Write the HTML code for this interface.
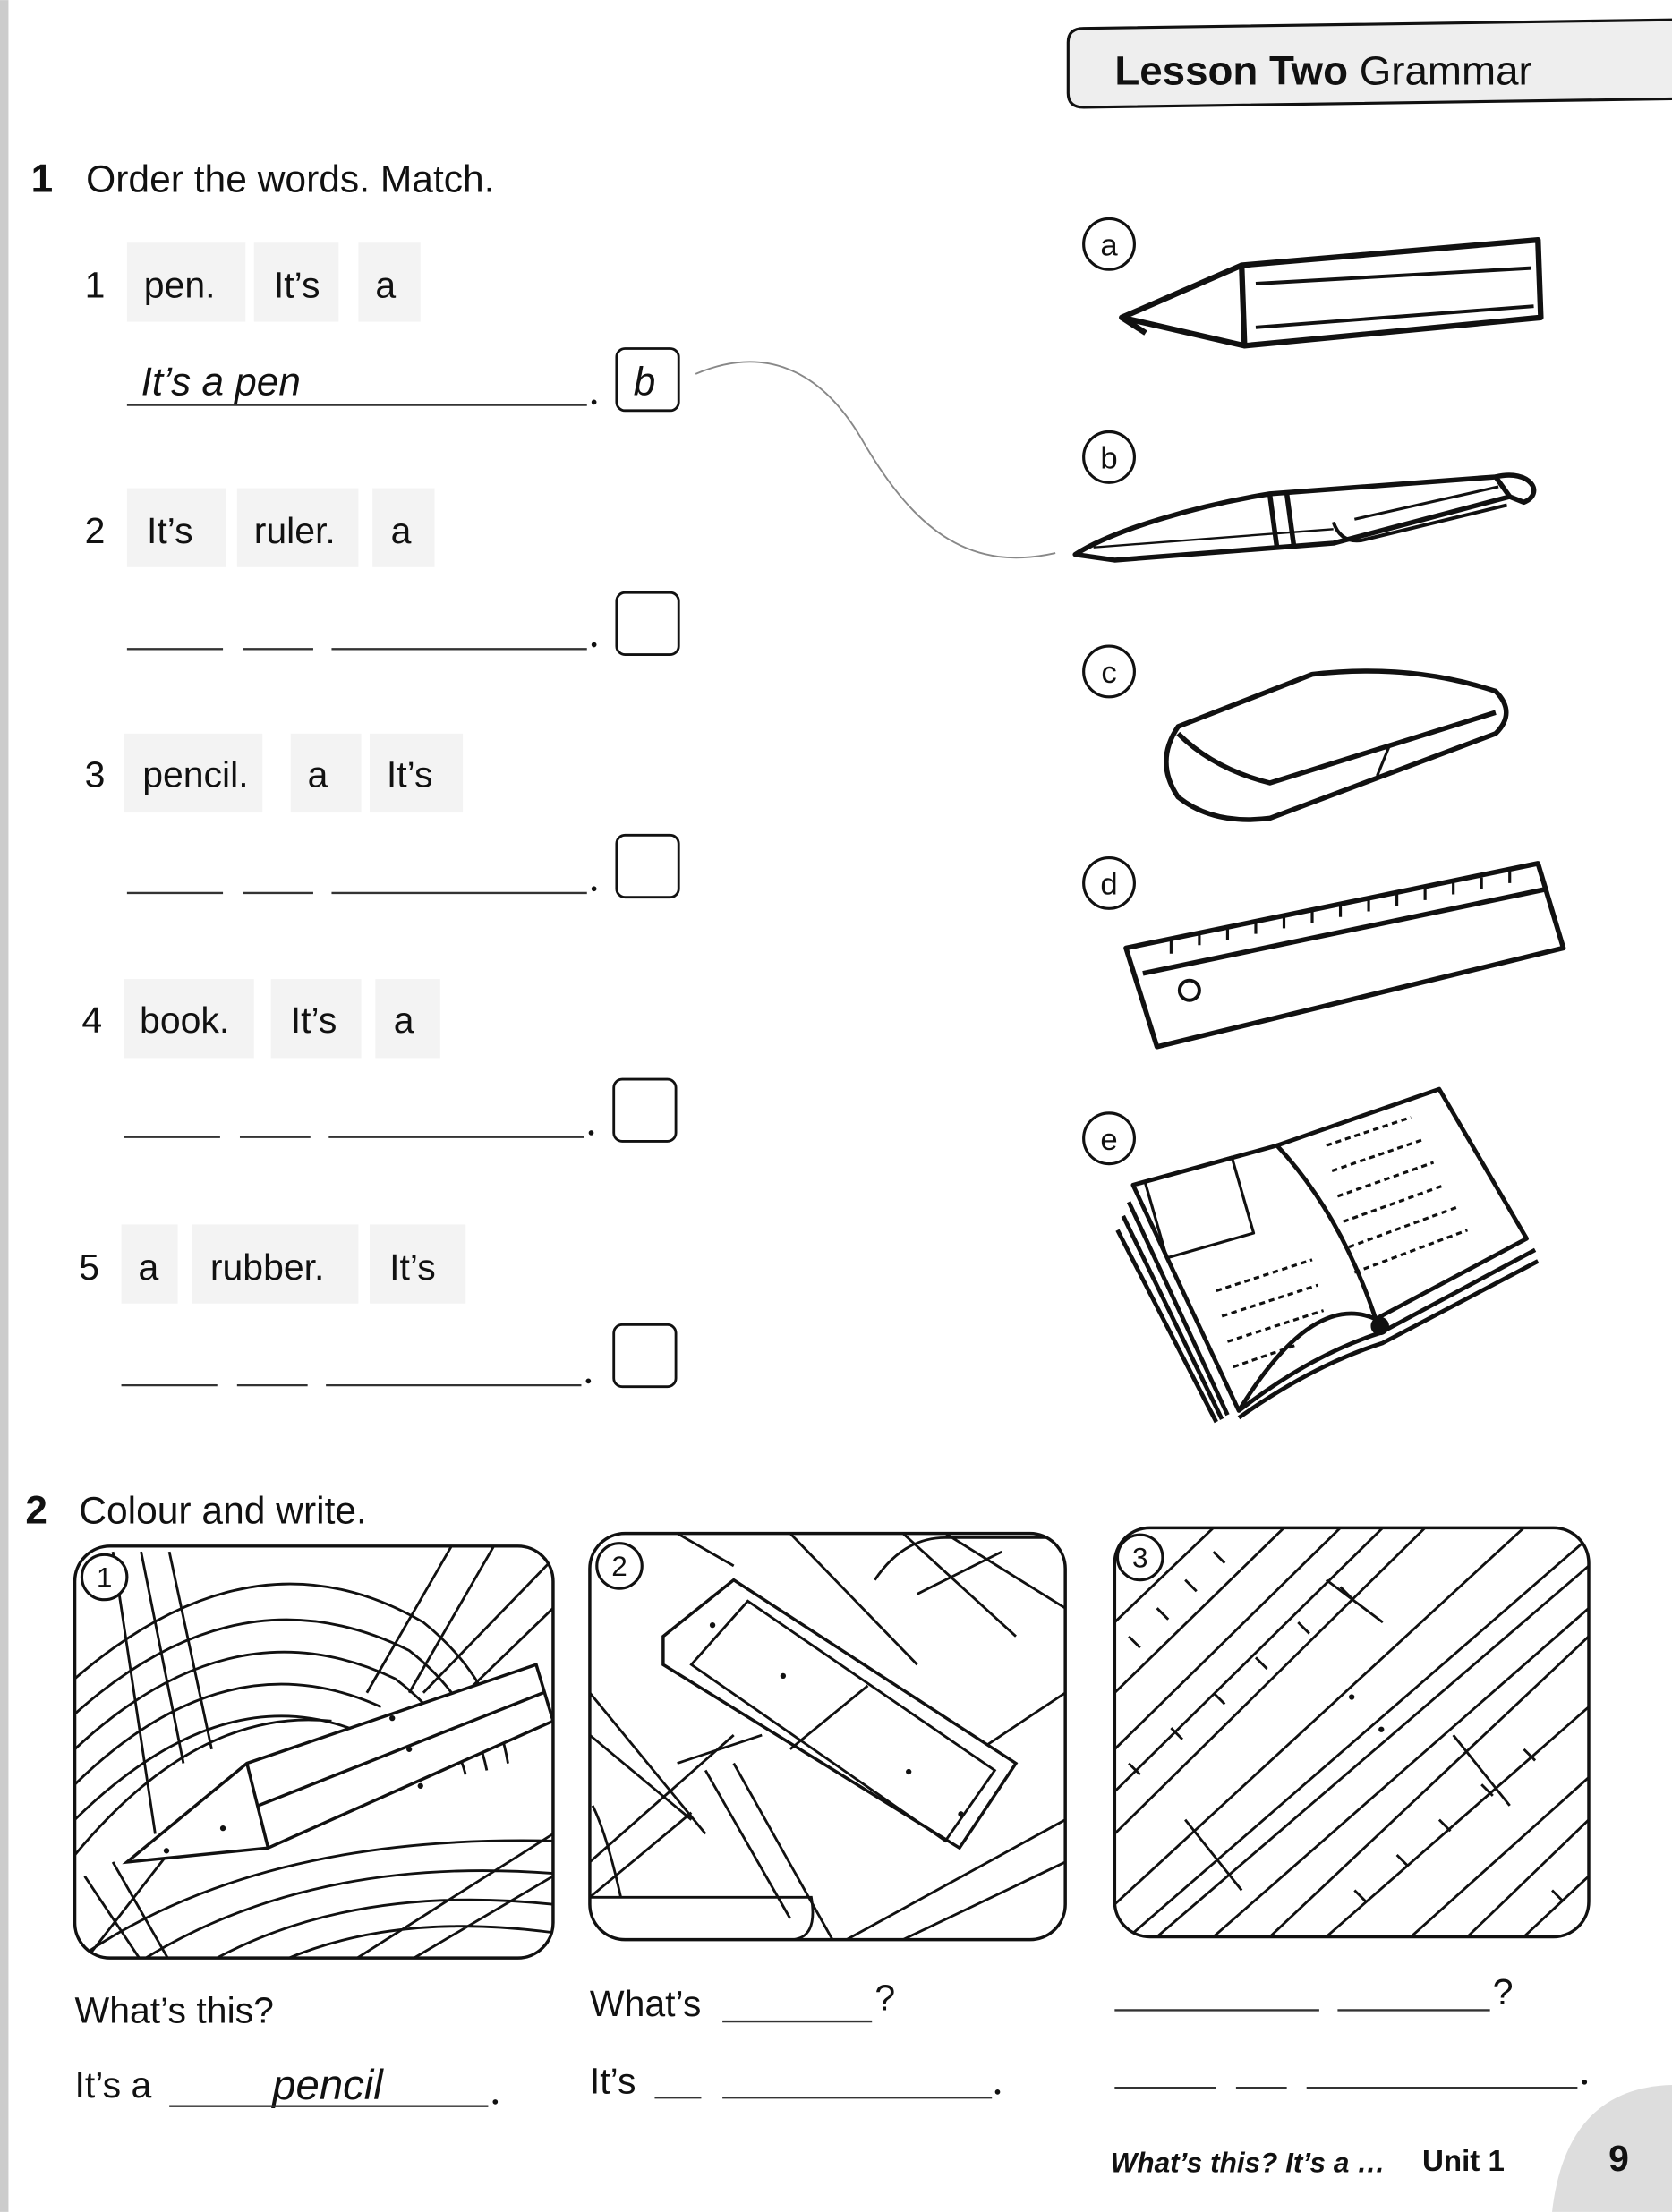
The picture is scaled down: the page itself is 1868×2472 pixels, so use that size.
<!DOCTYPE html>
<html><head><meta charset="utf-8"><style>
html,body{margin:0;padding:0;background:#fff;}
svg{display:block;}
text{font-family:"Liberation Sans",sans-serif;fill:#111;}
</style></head><body>
<svg width="1868" height="2472" viewBox="0 0 1185 1568" xmlns="http://www.w3.org/2000/svg">
<defs>
<clipPath id="c1"><rect x="53" y="1096" width="339" height="292" rx="25"/></clipPath>
<clipPath id="c2"><rect x="418" y="1087" width="337" height="288" rx="25"/></clipPath>
<clipPath id="c3"><rect x="790" y="1083" width="336" height="290" rx="25"/></clipPath>
</defs>
<rect x="0" y="0" width="6" height="1568" fill="#ccc"/>
<path d="M1185 14 L768 20 Q757 20 757 30 L757 66 Q757 76 768 76 L1185 70" fill="#eee" stroke="#111" stroke-width="2"/>
<text x="790" y="60" font-size="29" font-weight="bold">Lesson Two <tspan font-weight="normal">Grammar</tspan></text>
<text x="22" y="136" font-size="28" font-weight="bold">1</text>
<text x="61" y="136" font-size="27">Order the words. Match.</text>
<g font-size="26">
<g fill="#f3f3f3">
<rect x="90" y="172" width="84" height="56"/><rect x="180" y="172" width="60" height="56"/><rect x="254" y="172" width="44" height="56"/>
<rect x="90" y="346" width="70" height="56"/><rect x="168" y="346" width="86" height="56"/><rect x="264" y="346" width="44" height="56"/>
<rect x="88" y="520" width="98" height="56"/><rect x="206" y="520" width="50" height="56"/><rect x="262" y="520" width="66" height="56"/>
<rect x="88" y="694" width="92" height="56"/><rect x="192" y="694" width="64" height="56"/><rect x="266" y="694" width="46" height="56"/>
<rect x="86" y="868" width="40" height="56"/><rect x="136" y="868" width="118" height="56"/><rect x="262" y="868" width="68" height="56"/>
</g>
<text x="60" y="211">1</text><text x="102" y="211">pen.</text><text x="194" y="211">It’s</text><text x="266" y="211">a</text>
<text x="60" y="385">2</text><text x="104" y="385">It’s</text><text x="180" y="385">ruler.</text><text x="277" y="385">a</text>
<text x="60" y="558">3</text><text x="101" y="558">pencil.</text><text x="218" y="558">a</text><text x="274" y="558">It’s</text>
<text x="58" y="732">4</text><text x="99" y="732">book.</text><text x="206" y="732">It’s</text><text x="279" y="732">a</text>
<text x="56" y="907">5</text><text x="98" y="907">a</text><text x="149" y="907">rubber.</text><text x="276" y="907">It’s</text>
</g>
<text x="100" y="280" font-size="28" font-style="italic" fill="#333">It’s a pen</text>
<line x1="90" y1="287" x2="416" y2="287" stroke="#333" stroke-width="1.5"/>
<g stroke="#333" stroke-width="1.5">
<line x1="90" y1="460" x2="158" y2="460"/><line x1="172" y1="460" x2="222" y2="460"/><line x1="235" y1="460" x2="416" y2="460"/>
<line x1="90" y1="633" x2="158" y2="633"/><line x1="172" y1="633" x2="222" y2="633"/><line x1="235" y1="633" x2="416" y2="633"/>
<line x1="88" y1="806" x2="156" y2="806"/><line x1="170" y1="806" x2="220" y2="806"/><line x1="233" y1="806" x2="414" y2="806"/>
<line x1="86" y1="982" x2="154" y2="982"/><line x1="168" y1="982" x2="218" y2="982"/><line x1="231" y1="982" x2="412" y2="982"/>
</g>
<g fill="#111"><circle cx="421" cy="285" r="1.8"/><circle cx="421" cy="457" r="1.8"/><circle cx="421" cy="630" r="1.8"/><circle cx="419" cy="803" r="1.8"/><circle cx="417" cy="979" r="1.8"/></g>
<g fill="none" stroke="#111" stroke-width="1.8">
<rect x="437" y="247" width="44" height="44" rx="6"/><rect x="437" y="420" width="44" height="44" rx="6"/><rect x="437" y="592" width="44" height="44" rx="6"/><rect x="435" y="765" width="44" height="44" rx="6"/><rect x="435" y="939" width="44" height="44" rx="6"/>
</g>
<text x="449" y="280" font-size="28" font-style="italic">b</text>
<path d="M493 265 C540 245 580 260 610 310 C650 380 690 405 748 392" fill="none" stroke="#888" stroke-width="1.2"/>
<g fill="none" stroke="#111" stroke-width="2"><circle cx="786" cy="173" r="18"/><circle cx="786" cy="324" r="18"/><circle cx="786" cy="476" r="18"/><circle cx="786" cy="626" r="18"/><circle cx="786" cy="807" r="18"/></g>
<g font-size="22" text-anchor="middle"><text x="786" y="181">a</text><text x="786" y="332">b</text><text x="786" y="484">c</text><text x="786" y="634">d</text><text x="786" y="815">e</text></g>
<!-- pencil -->
<g fill="none" stroke="#111" stroke-width="4" stroke-linejoin="round">
<path d="M880 188 L1090 170 L1092 225 L882 245 Z"/><path d="M880 188 L795 225 L882 245"/><path d="M795 225 L812 236"/>
<line x1="890" y1="201" x2="1085" y2="190" stroke-width="2.5"/><line x1="890" y1="232" x2="1087" y2="217" stroke-width="2.5"/>
</g>
<!-- pen -->
<g fill="none" stroke="#111" stroke-width="3.5" stroke-linejoin="round">
<path d="M762 393 C790 375 850 358 900 350 L1060 338 L1070 352 L945 385 L790 397 Z"/>
<path d="M1060 338 C1085 332 1095 350 1080 356 L1070 352" />
<path d="M945 370 Q950 385 965 383 L1068 358" stroke-width="2.5"/>
<path d="M960 368 L1062 345" stroke-width="2"/>
<line x1="900" y1="351" x2="905" y2="388"/><line x1="912" y1="350" x2="917" y2="387"/>
<line x1="775" y1="388" x2="945" y2="375" stroke-width="1.5"/>
</g>
<!-- rubber -->
<g fill="none" stroke="#111" stroke-width="3.5" stroke-linejoin="round">
<path d="M835 515 L930 478 Q1000 470 1060 490 Q1075 505 1060 520 L900 580 Q860 585 835 565 Q818 540 835 515 Z"/>
<path d="M835 520 Q860 545 900 555 L1060 505"/><line x1="985" y1="528" x2="976" y2="550" stroke-width="2"/>
</g>
<!-- ruler -->
<g fill="none" stroke="#111" stroke-width="3.5" stroke-linejoin="round">
<path d="M798 672 L1090 612 L1108 672 L820 742 Z"/><line x1="810" y1="690" x2="1097" y2="630"/>
<circle cx="843" cy="702" r="7" stroke-width="2.5"/>
<path d="M830 666 L830 676 M850 662 L850 670 M870 658 L870 666 M890 654 L890 662 M910 650 L910 658 M930 646 L930 654 M950 642 L950 650 M970 638 L970 646 M990 634 L990 642 M1010 630 L1010 638 M1030 626 L1030 634 M1050 622 L1050 630 M1070 618 L1070 626" stroke-width="2"/>
</g>
<!-- book -->
<g fill="none" stroke="#111" stroke-width="3" stroke-linejoin="round">
<path d="M803 840 L905 812 Q945 840 975 935 Q930 915 878 1000 Z" fill="#fff"/>
<path d="M905 812 L1020 772 L1082 878 L975 935 Q950 860 905 812 Z" fill="#fff"/>
<path d="M800 852 L870 1003 M796 862 L866 1006 M792 872 L862 1008 M878 1000 Q930 960 978 945 L1088 886 M878 1005 Q930 968 980 952 L1090 894"/>
<rect x="818" y="828" width="64" height="56" transform="rotate(-16 850 856)" stroke-width="2"/>
<path d="M940 812 L1000 792 M944 830 L1008 808 M948 848 L1016 824 M952 866 L1024 840 M956 884 L1032 856 M960 902 L1040 872 M862 915 L930 893 M866 933 L934 911 M870 951 L938 929 M874 969 L920 953" stroke-width="2" stroke-dasharray="4 3"/>
<circle cx="978" cy="940" r="5" fill="#111"/>
</g>
<!-- section 2 -->
<text x="18" y="1080" font-size="28" font-weight="bold">2</text>
<text x="56" y="1080" font-size="27">Colour and write.</text>
<g fill="none" stroke="#111" stroke-width="1.8">
<g clip-path="url(#c1)">
<path d="M53 1190 Q180 1080 300 1150 Q350 1190 360 1250 M53 1215 Q170 1110 290 1170 Q335 1205 345 1255 M53 1240 Q165 1135 280 1190 Q320 1220 330 1258 M53 1265 Q160 1160 270 1210 M53 1290 Q160 1185 260 1230 M53 1315 Q140 1210 235 1220"/>
<path d="M53 1390 Q180 1300 392 1305 M100 1390 Q220 1315 392 1328 M150 1390 Q250 1335 392 1350 M200 1390 Q280 1355 392 1370 M250 1390 L392 1300 M290 1390 L392 1330 M80 1100 L110 1300 M100 1100 L130 1250 M120 1100 L150 1240 M260 1200 L320 1096 M290 1200 L350 1096 M300 1200 L392 1105 M330 1200 L392 1140 M60 1330 L100 1390 M80 1320 L120 1390 M60 1390 L130 1300"/>
<path d="M90 1320 L175 1250 L380 1180 L392 1220 L190 1310 Z M175 1250 L190 1310 M183 1280 L385 1200" stroke-width="2.2" fill="#fff"/>
</g>
<rect x="53" y="1096" width="339" height="292" rx="25" stroke-width="2.2"/>
<g clip-path="url(#c2)">
<path d="M418 1200 L500 1300 M418 1230 L490 1290 M418 1320 L520 1230 M418 1345 L490 1285 M500 1255 L560 1360 M520 1250 L590 1375 M640 1087 L720 1160 M670 1087 L755 1140 M560 1087 L650 1180 M600 1375 L755 1290 M640 1375 L755 1320 M480 1087 L520 1110 M418 1345 L575 1345 Q580 1375 560 1375 M620 1120 Q640 1090 670 1090 L755 1090 M650 1130 L710 1100 M420 1280 Q430 1300 440 1345 M480 1250 L540 1230 M680 1250 L755 1200"/>
<path d="M470 1160 L520 1120 L720 1250 L680 1310 L470 1180 Z" stroke-width="2.2" fill="#fff"/>
<path d="M490 1180 L530 1135 L705 1255 L670 1305 Z M560 1240 L615 1195"/>
</g>
<rect x="418" y="1087" width="337" height="288" rx="25" stroke-width="2.2"/>
<g clip-path="url(#c3)">
<path d="M790 1150 L860 1083 M790 1200 L910 1083 M790 1240 L950 1083 M790 1270 L980 1083 M790 1300 L1010 1083 M790 1350 L1080 1083 M800 1373 L1126 1090 M820 1373 L1126 1110 M860 1373 L1126 1140 M900 1373 L1126 1160 M940 1373 L1126 1210 M1000 1373 L1126 1260 M1040 1373 L1126 1290 M1080 1373 L1126 1330 M840 1290 L880 1340 M1030 1230 L1070 1280 M940 1120 L980 1150"/>
<path d="M800 1160 l8 8 M820 1140 l8 8 M840 1120 l8 8 M860 1100 l8 8 M800 1250 l8 8 M830 1225 l8 8 M860 1200 l8 8 M890 1175 l8 8 M920 1150 l8 8 M950 1125 l8 8 M960 1340 l8 8 M990 1315 l8 8 M1020 1290 l8 8 M1050 1265 l8 8 M1080 1240 l8 8 M1100 1340 l8 8"/>
</g>
<rect x="790" y="1083" width="336" height="290" rx="25" stroke-width="2.2"/>
</g>
<g fill="#fff" stroke="#111" stroke-width="2"><circle cx="74" cy="1118" r="16"/><circle cx="439" cy="1110" r="16"/><circle cx="808" cy="1104" r="16"/></g>
<g font-size="20" text-anchor="middle"><text x="74" y="1125">1</text><text x="439" y="1117">2</text><text x="808" y="1111">3</text></g>
<g fill="#111"><circle cx="278" cy="1218" r="2"/><circle cx="290" cy="1240" r="2"/><circle cx="298" cy="1266" r="2"/><circle cx="158" cy="1296" r="2"/><circle cx="118" cy="1312" r="2"/><circle cx="505" cy="1152" r="2"/><circle cx="555" cy="1188" r="2"/><circle cx="644" cy="1256" r="2"/><circle cx="681" cy="1286" r="2"/><circle cx="958" cy="1203" r="2"/><circle cx="979" cy="1226" r="2"/></g>
<g font-size="26">
<text x="53" y="1434">What’s this?</text>
<text x="53" y="1487">It’s a</text>
<text x="193" y="1488" font-size="30" font-style="italic" fill="#333">pencil</text>
<text x="418" y="1429">What’s</text><text x="620" y="1425">?</text>
<text x="418" y="1484">It’s</text>
<text x="1058" y="1421">?</text>
</g>
<g stroke="#333" stroke-width="1.5">
<line x1="120" y1="1493" x2="346" y2="1493"/><line x1="512" y1="1433" x2="618" y2="1433"/><line x1="464" y1="1487" x2="497" y2="1487"/><line x1="512" y1="1487" x2="703" y2="1487"/>
<line x1="790" y1="1425" x2="935" y2="1425"/><line x1="948" y1="1425" x2="1056" y2="1425"/>
<line x1="790" y1="1480" x2="862" y2="1480"/><line x1="876" y1="1480" x2="912" y2="1480"/><line x1="926" y1="1480" x2="1118" y2="1480"/>
</g>
<g fill="#111"><circle cx="351" cy="1490" r="1.8"/><circle cx="707" cy="1483" r="1.8"/><circle cx="1123" cy="1476" r="1.8"/></g>
<path d="M1185 1478 Q1110 1480 1100 1568 L1185 1568 Z" fill="#ddd"/>
<text x="787" y="1540" font-size="20" font-style="italic" font-weight="bold">What’s this? It’s a …</text>
<text x="1008" y="1539" font-size="21" font-weight="bold">Unit 1</text>
<text x="1140" y="1539" font-size="26" font-weight="bold">9</text>
</svg>
</body></html>
